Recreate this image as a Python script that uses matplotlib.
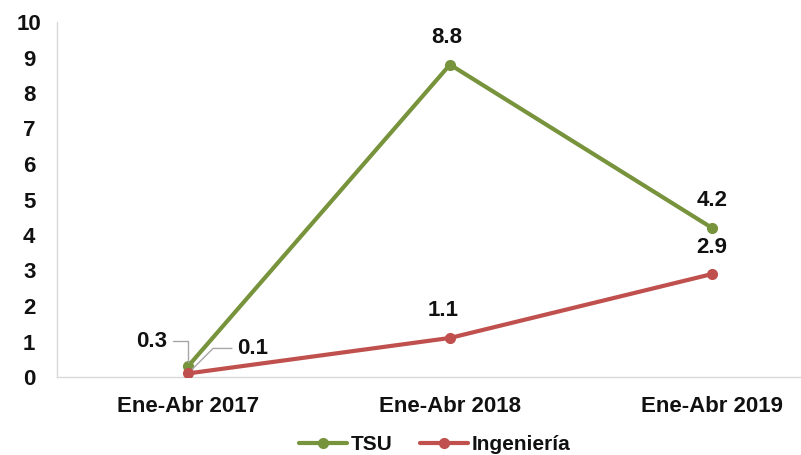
import matplotlib
matplotlib.use("Agg")
import matplotlib.pyplot as plt

categories = ["Ene-Abr 2017", "Ene-Abr 2018", "Ene-Abr 2019"]
tsu = [0.3, 8.8, 4.2]
ingenieria = [0.1, 1.1, 2.9]
series_names = ["TSU", "Ingeniería"]
yticks = list(range(0, 11))

green = "#77933C"
red = "#C0504D"
axis_grey = "#D9D9D9"

plt.rcParams['font.family'] = ['Liberation Sans', 'DejaVu Sans']
plt.rcParams['font.weight'] = 'bold'

fig = plt.figure(figsize=(8.01, 4.55), dpi=100)
ax = fig.add_axes([57/801, 78/455, (800-57)/801, (377-22)/455])

x = list(range(len(categories)))
ax.plot(x, tsu, color=green, lw=3, marker="o", ms=7, label=series_names[0],
        solid_capstyle="round", zorder=3)
ax.plot(x, ingenieria, color=red, lw=3, marker="o", ms=7, label=series_names[1],
        solid_capstyle="round", zorder=4)

ax.set_xlim(-0.5, 2.336)
ax.set_ylim(0, 10)
ax.set_yticks(yticks)
ax.set_xticks(x)
ax.set_xticklabels(categories)
for s in ["top", "right"]:
    ax.spines[s].set_visible(False)
for s in ["left", "bottom"]:
    ax.spines[s].set_color(axis_grey)
    ax.spines[s].set_linewidth(1)
ax.tick_params(axis="both", length=0, labelsize=16, colors="#111111")
ax.tick_params(axis="x", pad=14)
ax.tick_params(axis="y", pad=20)
for lab in ax.get_yticklabels():
    lab.set_horizontalalignment("center")
for lab in ax.get_xticklabels() + ax.get_yticklabels():
    lab.set_fontweight("bold")

lbl_kw = dict(fontsize=16, fontweight="bold", color="#111111", ha="center", va="center")
for i in (1, 2):
    ax.annotate(f"{tsu[i]:.1f}", (x[i], tsu[i]), xytext=(-3 if i == 1 else 0, 27),
                textcoords="offset pixels", **lbl_kw)
    ax.annotate(f"{ingenieria[i]:.1f}", (x[i], ingenieria[i]), xytext=(-7 if i == 1 else 0, 27),
                textcoords="offset pixels", **lbl_kw)

ax.annotate(f"{tsu[0]:.1f}", (x[0], tsu[0]), xytext=(-36, 25), textcoords="offset pixels",
            arrowprops=dict(arrowstyle="-", color="#A6A6A6", lw=1,
                            connectionstyle="angle,angleA=0,angleB=90,rad=0",
                            shrinkA=2, shrinkB=3), **lbl_kw)
ax.annotate(f"{ingenieria[0]:.1f}", (x[0], ingenieria[0]), xytext=(65, 25), textcoords="offset pixels",
            arrowprops=dict(arrowstyle="-", color="#A6A6A6", lw=1,
                            connectionstyle="angle,angleA=180,angleB=45,rad=0",
                            shrinkA=2, shrinkB=3), **lbl_kw)

leg = fig.legend(loc="center", bbox_to_anchor=(435/801, 1 - 445/455), ncol=2, frameon=False,
                 handlelength=2.3, handletextpad=0.2, columnspacing=1.3,
                 prop=dict(weight="bold", size=15))
for t in leg.get_texts():
    t.set_color("#111111")

fig.savefig("out.png", dpi=100)
